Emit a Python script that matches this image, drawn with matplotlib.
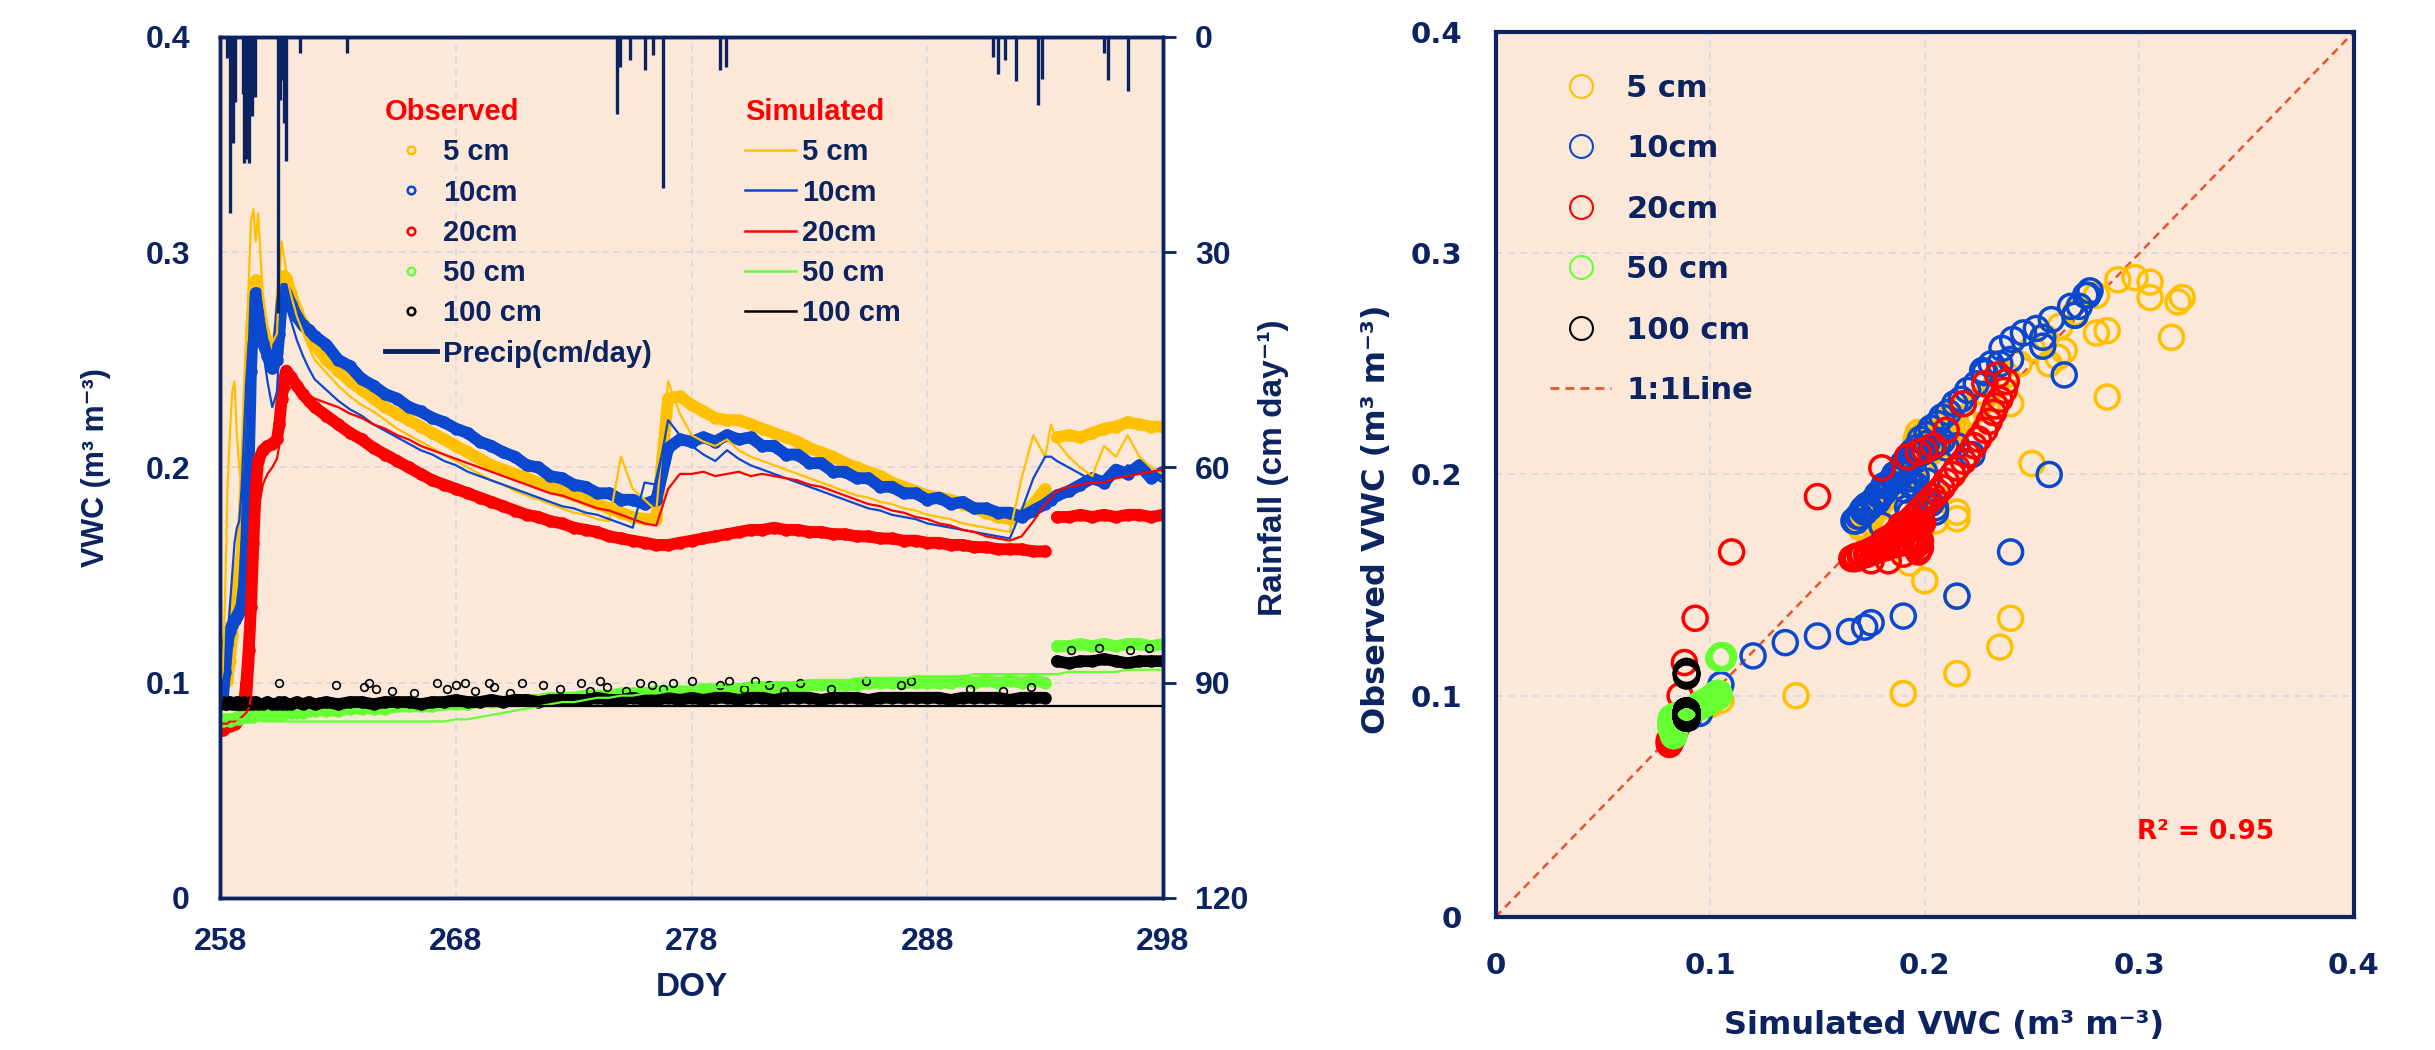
import numpy as np
import matplotlib
matplotlib.use("Agg")
import matplotlib.pyplot as plt
from matplotlib.lines import Line2D

plt.rcParams['font.family'] = ['Liberation Sans', 'DejaVu Sans']
plt.rcParams['font.weight'] = 'bold'

NAVY = '#0B2360'
C5, C10, C20, C50, C100 = '#FFC000', '#0A48CF', '#FF0000', '#66FF33', '#000000'
BG = '#FCE8D9'
GRID = '#D3D6DC'
ONE_LINE = '#E8542C'
nan = np.nan

# ---- time series (DOY) ----
doy = [258.0, 258.1, 258.2, 258.3, 258.4, 258.5, 258.6, 258.7, 258.8, 258.9,
       259.0, 259.1, 259.2, 259.3, 259.4, 259.5, 259.6, 259.8, 260.0, 260.2,
       260.4, 260.5, 260.6, 260.7, 260.8, 261.0, 261.25, 261.5, 261.75, 262.0,
       262.5, 263.0, 263.5, 264.0, 264.5, 265.0, 265.5, 266.0, 266.5, 267.0,
       267.5, 268.0, 268.5, 269.0, 269.5, 270.0, 270.5, 271.0, 271.5, 272.0,
       272.5, 273.0, 273.5, 274.0, 274.5, 275.0, 275.5, 276.0, 276.5, 277.0,
       277.5, 278.0, 278.5, 279.0, 279.5, 280.0, 280.5, 281.0, 281.5, 282.0,
       282.5, 283.0, 283.5, 284.0, 284.5, 285.0, 285.5, 286.0, 286.5, 287.0,
       287.5, 288.0, 288.5, 289.0, 289.5, 290.0, 290.5, 291.0, 291.5, 292.0,
       292.5, 293.0,
       293.25, 293.5, 294.0, 294.5, 295.0, 295.5, 296.0, 296.5, 297.0, 297.5, 298.0]

# observed VWC (m3 m-3)
obs5 = [0.096, 0.098, 0.100, 0.101, 0.110, 0.122, 0.135, 0.145, 0.152, 0.160,
        0.180, 0.205, 0.235, 0.262, 0.280, 0.287, 0.278, 0.264, 0.256, 0.250,
        0.253, 0.265, 0.280, 0.289, 0.288, 0.281, 0.273, 0.267, 0.262, 0.257,
        0.250, 0.245, 0.240, 0.236, 0.232, 0.228, 0.225, 0.222, 0.219, 0.216,
        0.213, 0.210, 0.207, 0.204, 0.201, 0.199, 0.197, 0.195, 0.193, 0.191,
        0.189, 0.187, 0.185, 0.183, 0.181, 0.179, 0.177, 0.176, 0.176, 0.232,
        0.233, 0.229, 0.226, 0.223, 0.222, 0.222, 0.220, 0.218, 0.216, 0.214,
        0.212, 0.209, 0.207, 0.205, 0.202, 0.200, 0.198, 0.196, 0.193, 0.191,
        0.189, 0.187, 0.186, 0.185, 0.183, 0.181, 0.179, 0.177, 0.176, 0.178,
        0.183, 0.190,
        nan, 0.214, 0.215, 0.214, 0.216, 0.218, 0.219, 0.221, 0.220, 0.219, 0.219]
obs10 = [0.090, 0.092, 0.105, 0.118, 0.124, 0.127, 0.129, 0.131, 0.133, 0.136,
         0.145, 0.165, 0.200, 0.245, 0.272, 0.281, 0.272, 0.258, 0.252, 0.246,
         0.250, 0.262, 0.276, 0.283, 0.281, 0.276, 0.270, 0.266, 0.264, 0.261,
         0.257, 0.250, 0.247, 0.241, 0.238, 0.234, 0.232, 0.228, 0.226, 0.223,
         0.221, 0.218, 0.216, 0.212, 0.210, 0.207, 0.205, 0.201, 0.200, 0.196,
         0.195, 0.192, 0.191, 0.188, 0.188, 0.185, 0.185, 0.183, 0.185, 0.209,
         0.213, 0.212, 0.214, 0.212, 0.215, 0.213, 0.214, 0.210, 0.210, 0.206,
         0.206, 0.202, 0.202, 0.198, 0.198, 0.195, 0.195, 0.191, 0.191, 0.188,
         0.188, 0.185, 0.186, 0.183, 0.184, 0.181, 0.181, 0.179, 0.179, 0.177,
         0.180, 0.183,
         0.185, 0.187, 0.189, 0.192, 0.195, 0.193, 0.199, 0.197, 0.201, 0.195, 0.198]
obs20 = [0.079, 0.078, 0.079, 0.080, 0.080, 0.081, 0.081, 0.082, 0.083, 0.085,
         0.090, 0.100, 0.115, 0.135, 0.165, 0.190, 0.203, 0.208, 0.210, 0.211,
         0.213, 0.220, 0.232, 0.241, 0.245, 0.242, 0.238, 0.234, 0.231, 0.228,
         0.224, 0.220, 0.216, 0.213, 0.209, 0.206, 0.203, 0.200, 0.197, 0.194,
         0.192, 0.190, 0.188, 0.186, 0.184, 0.182, 0.180, 0.178, 0.177, 0.175,
         0.174, 0.172, 0.171, 0.170, 0.168, 0.167, 0.166, 0.165, 0.164, 0.164,
         0.165, 0.166, 0.167, 0.168, 0.169, 0.170, 0.171, 0.171, 0.172, 0.171,
         0.171, 0.170, 0.170, 0.169, 0.169, 0.168, 0.168, 0.167, 0.167, 0.166,
         0.166, 0.165, 0.165, 0.164, 0.164, 0.163, 0.163, 0.162, 0.162, 0.162,
         0.161, 0.161,
         nan, 0.177, 0.177, 0.178, 0.177, 0.178, 0.177, 0.178, 0.178, 0.177, 0.178]
obs50 = [0.083, 0.082, 0.083, 0.083, 0.082, 0.083, 0.083, 0.084, 0.083, 0.084,
         0.084, 0.084, 0.084, 0.085, 0.084, 0.085, 0.085, 0.085, 0.085, 0.085,
         0.086, 0.085, 0.086, 0.086, 0.086, 0.086, 0.086, 0.086, 0.087, 0.087,
         0.087, 0.087, 0.088, 0.088, 0.088, 0.088, 0.089, 0.089, 0.089, 0.089,
         0.090, 0.090, 0.090, 0.091, 0.091, 0.091, 0.092, 0.092, 0.092, 0.093,
         0.093, 0.093, 0.094, 0.094, 0.094, 0.095, 0.095, 0.095, 0.096, 0.096,
         0.096, 0.096, 0.097, 0.097, 0.097, 0.097, 0.098, 0.098, 0.098, 0.098,
         0.098, 0.099, 0.099, 0.099, 0.099, 0.099, 0.100, 0.100, 0.100, 0.100,
         0.100, 0.100, 0.100, 0.100, 0.101, 0.100, 0.101, 0.100, 0.101, 0.100,
         0.101, 0.100,
         nan, 0.117, 0.117, 0.118, 0.117, 0.118, 0.117, 0.118, 0.118, 0.117, 0.118]
obs100 = [0.090, 0.091, 0.090, 0.090, 0.091, 0.090, 0.090, 0.091, 0.090, 0.090,
          0.091, 0.090, 0.090, 0.091, 0.090, 0.091, 0.090, 0.090, 0.091, 0.090,
          0.090, 0.091, 0.090, 0.091, 0.090, 0.090, 0.091, 0.090, 0.091, 0.090,
          0.091, 0.090, 0.091, 0.091, 0.090, 0.091, 0.091, 0.091, 0.090, 0.091,
          0.091, 0.092, 0.091, 0.091, 0.092, 0.091, 0.092, 0.092, 0.091, 0.092,
          0.092, 0.092, 0.092, 0.093, 0.092, 0.092, 0.093, 0.092, 0.092, 0.093,
          0.092, 0.093, 0.092, 0.093, 0.093, 0.092, 0.093, 0.093, 0.092, 0.093,
          0.093, 0.093, 0.092, 0.093, 0.093, 0.093, 0.092, 0.093, 0.093, 0.093,
          0.093, 0.093, 0.093, 0.092, 0.093, 0.093, 0.093, 0.093, 0.092, 0.093,
          0.093, 0.093,
          nan, 0.110, 0.109, 0.110, 0.110, 0.111, 0.110, 0.109, 0.110, 0.110, 0.110]

# scattered high readings of the 100 cm sensor
obs100_out_doy = [260.5, 262.9, 264.1, 264.3, 264.6, 265.3, 266.2, 267.2, 267.6, 268.0,
                  268.4, 268.8, 269.4, 269.6, 270.3, 270.8, 271.7, 272.4, 273.3, 273.7,
                  274.1, 274.4, 275.2, 275.8, 276.3, 276.8, 277.2, 278.0, 279.2, 279.6,
                  280.2, 280.7, 281.3, 281.9, 282.6, 283.9, 285.4, 286.9, 287.3, 289.8,
                  291.2, 292.4, 294.1, 295.3, 296.6, 297.4]
obs100_out_vwc = [0.100, 0.099, 0.098, 0.100, 0.097, 0.096, 0.095, 0.100, 0.097, 0.099,
                  0.100, 0.096, 0.100, 0.098, 0.095, 0.100, 0.099, 0.097, 0.100, 0.096,
                  0.101, 0.098, 0.096, 0.100, 0.099, 0.097, 0.100, 0.101, 0.099, 0.101,
                  0.097, 0.101, 0.099, 0.096, 0.100, 0.097, 0.101, 0.099, 0.101, 0.097,
                  0.096, 0.098, 0.115, 0.116, 0.115, 0.116]

# simulated VWC (m3 m-3)
sim5 = [0.100, 0.105, 0.140, 0.190, 0.215, 0.235, 0.240, 0.215, 0.200, 0.193,
        0.215, 0.250, 0.285, 0.315, 0.320, 0.305, 0.318, 0.280, 0.265, 0.258,
        0.262, 0.285, 0.305, 0.298, 0.290, 0.280, 0.270, 0.263, 0.256, 0.250,
        0.244, 0.238, 0.233, 0.229, 0.226, 0.222, 0.218, 0.215, 0.212, 0.209,
        0.206, 0.203, 0.200, 0.197, 0.194, 0.192, 0.189, 0.187, 0.185, 0.183,
        0.181, 0.179, 0.178, 0.176, 0.175, 0.205, 0.190, 0.185, 0.180, 0.240,
        0.225, 0.215, 0.212, 0.210, 0.213, 0.208, 0.205, 0.203, 0.201, 0.199,
        0.197, 0.195, 0.193, 0.191, 0.189, 0.187, 0.186, 0.184, 0.183, 0.181,
        0.180, 0.178, 0.177, 0.176, 0.174, 0.173, 0.172, 0.171, 0.170, 0.195,
        0.215, 0.205,
        0.220, 0.212, 0.205, 0.200, 0.196, 0.210, 0.205, 0.215, 0.205, 0.200, 0.197]
sim10 = [0.090, 0.095, 0.105, 0.120, 0.135, 0.150, 0.165, 0.172, 0.175, 0.190,
         0.215, 0.240, 0.258, 0.265, 0.270, 0.276, 0.270, 0.255, 0.240, 0.228,
         0.235, 0.255, 0.272, 0.277, 0.275, 0.268, 0.259, 0.252, 0.246, 0.241,
         0.236, 0.231, 0.227, 0.224, 0.220, 0.217, 0.214, 0.211, 0.208, 0.206,
         0.203, 0.201, 0.198, 0.196, 0.194, 0.192, 0.190, 0.188, 0.186, 0.184,
         0.182, 0.181, 0.179, 0.178, 0.176, 0.174, 0.172, 0.193, 0.192, 0.222,
         0.215, 0.210, 0.206, 0.203, 0.208, 0.204, 0.201, 0.199, 0.197, 0.195,
         0.193, 0.191, 0.189, 0.187, 0.185, 0.183, 0.181, 0.180, 0.178, 0.177,
         0.176, 0.174, 0.173, 0.172, 0.171, 0.170, 0.169, 0.168, 0.167, 0.180,
         0.195, 0.205,
         0.205, 0.203, 0.200, 0.197, 0.194, 0.191, 0.196, 0.201, 0.200, 0.196, 0.193]
sim20 = [0.081, 0.081, 0.081, 0.081, 0.082, 0.082, 0.082, 0.083, 0.083, 0.084,
         0.085, 0.086, 0.088, 0.093, 0.110, 0.150, 0.180, 0.192, 0.197, 0.200,
         0.204, 0.210, 0.218, 0.228, 0.234, 0.238, 0.237, 0.235, 0.233, 0.232,
         0.230, 0.228, 0.225, 0.223, 0.220, 0.218, 0.215, 0.213, 0.210, 0.208,
         0.206, 0.204, 0.202, 0.200, 0.198, 0.196, 0.194, 0.192, 0.190, 0.188,
         0.187, 0.185, 0.183, 0.181, 0.180, 0.178, 0.176, 0.174, 0.173, 0.190,
         0.197, 0.197, 0.198, 0.196, 0.197, 0.198, 0.196, 0.197, 0.196, 0.195,
         0.194, 0.192, 0.191, 0.189, 0.187, 0.185, 0.183, 0.182, 0.180, 0.179,
         0.177, 0.176, 0.174, 0.173, 0.171, 0.170, 0.168, 0.167, 0.166, 0.168,
         0.175, 0.183,
         0.186, 0.189, 0.191, 0.192, 0.193, 0.193, 0.195, 0.196, 0.197, 0.198, 0.199]
sim50 = [0.083, 0.083, 0.083, 0.083, 0.083, 0.083, 0.083, 0.083, 0.083, 0.083,
         0.083, 0.083, 0.083, 0.083, 0.083, 0.083, 0.083, 0.082, 0.082, 0.082,
         0.082, 0.082, 0.082, 0.082, 0.082, 0.082, 0.082, 0.082, 0.082, 0.082,
         0.082, 0.082, 0.082, 0.082, 0.082, 0.082, 0.082, 0.082, 0.082, 0.082,
         0.082, 0.083, 0.083, 0.084, 0.085, 0.086, 0.087, 0.088, 0.089, 0.090,
         0.091, 0.091, 0.092, 0.093, 0.093, 0.094, 0.094, 0.095, 0.095, 0.096,
         0.096, 0.097, 0.097, 0.098, 0.098, 0.099, 0.099, 0.099, 0.100, 0.100,
         0.100, 0.101, 0.101, 0.101, 0.101, 0.102, 0.102, 0.102, 0.102, 0.102,
         0.103, 0.103, 0.103, 0.103, 0.103, 0.104, 0.104, 0.104, 0.104, 0.104,
         0.104, 0.104,
         0.104, 0.104, 0.105, 0.105, 0.105, 0.105, 0.105, 0.106, 0.106, 0.106, 0.106]
sim100 = [0.089, 0.089, 0.089, 0.089, 0.089, 0.089, 0.089, 0.089, 0.089, 0.089,
          0.089, 0.089, 0.089, 0.089, 0.089, 0.089, 0.089, 0.089, 0.089, 0.089,
          0.089, 0.089, 0.089, 0.089, 0.089, 0.089, 0.089, 0.089, 0.089, 0.089,
          0.089, 0.089, 0.089, 0.089, 0.089, 0.089, 0.089, 0.089, 0.089, 0.089,
          0.089, 0.089, 0.089, 0.089, 0.089, 0.089, 0.089, 0.089, 0.089, 0.089,
          0.089, 0.089, 0.089, 0.089, 0.089, 0.089, 0.089, 0.089, 0.089, 0.089,
          0.089, 0.089, 0.089, 0.089, 0.089, 0.089, 0.089, 0.089, 0.089, 0.089,
          0.089, 0.089, 0.089, 0.089, 0.089, 0.089, 0.089, 0.089, 0.089, 0.089,
          0.089, 0.089, 0.089, 0.089, 0.089, 0.089, 0.089, 0.089, 0.089, 0.089,
          0.089, 0.089,
          0.089, 0.089, 0.089, 0.089, 0.089, 0.089, 0.089, 0.089, 0.089, 0.089, 0.089]

# precipitation (cm/day)
rain_doy = [258.30, 258.40, 258.45, 258.55, 258.60, 258.95, 259.00, 259.05, 259.10, 259.15,
            259.20, 259.25, 259.30, 259.35, 259.40, 259.48, 260.45, 260.55, 260.62, 260.70,
            260.78, 261.38, 263.37, 274.85, 274.95, 275.38, 276.00, 276.38, 276.80, 279.20,
            279.45, 290.78, 290.98, 291.30, 291.78, 292.68, 292.88, 295.48, 295.67, 296.52]
rain_cm = [3.0, 24.5, 6.0, 14.8, 9.0, 8.0, 17.5, 12.0, 17.0, 14.0,
           17.5, 9.0, 8.3, 11.0, 7.0, 8.3, 38.5, 8.8, 6.0, 12.0,
           17.3, 2.3, 2.3, 10.8, 4.2, 3.2, 4.6, 2.5, 21.0, 4.6,
           4.2, 2.8, 5.1, 3.2, 6.2, 9.5, 5.8, 2.3, 6.0, 7.6]

depth_labels = ['5 cm', '10cm', '20cm', '50 cm', '100 cm']
depth_colors = [C5, C10, C20, C50, C100]
obs_all = [obs5, obs10, obs20, obs50, obs100]
sim_all = [sim5, sim10, sim20, sim50, sim100]
one_to_one = [0.0, 0.4]

fig = plt.figure(figsize=(24.35, 10.5), dpi=100)

# ================= left: time series =================
ax = fig.add_axes([0.0905, 0.1448, 0.3871, 0.8200])
ax.set_facecolor(BG)
ax.set_axisbelow(True)

for vals, c in zip(obs_all, depth_colors):
    ax.plot(doy, vals, '-', color=c, lw=8.5, solid_capstyle='round', zorder=2)
    ax.plot(doy, vals, 'o', mfc='none', mec=c, ms=7, mew=2, zorder=2)
ax.plot(obs100_out_doy, obs100_out_vwc, 'o', ls='none', mfc='none', mec=C100,
        ms=5.5, mew=1.2, zorder=3)
for vals, c in zip(sim_all, depth_colors):
    ax.plot(doy, vals, '-', color=c, lw=1.6, zorder=4)

ax.set_xlim(258, 298)
ax.set_ylim(0, 0.4)
ax.set_xticks([258, 268, 278, 288, 298])
ax.set_yticks([0, 0.1, 0.2, 0.3, 0.4])
ax.set_yticklabels(['0', '0.1', '0.2', '0.3', '0.4'])
ax.tick_params(length=0, labelsize=23, colors=NAVY)
ax.tick_params(axis='y', pad=22)
ax.tick_params(axis='x', pad=21)
ax.grid(True, color=GRID, ls=(0, (4.5, 3.3)), lw=1.1)
for s in ax.spines.values():
    s.set_color(NAVY)
    s.set_linewidth(2.5)
ax.set_ylabel('VWC (m³ m⁻³)', fontsize=22, color=NAVY, fontweight='bold', va='center')
ax.yaxis.set_label_coords(-0.132, 0.5)
ax.set_xlabel('DOY', fontsize=24, color=NAVY, fontweight='bold', va='center')
ax.xaxis.set_label_coords(0.5, -0.1045)

ax2 = ax.twinx()
ax2.vlines(rain_doy, 0, rain_cm, color=NAVY, lw=2.4)
ax2.set_ylim(120, 0)
ax2.set_yticks([0, 30, 60, 90, 120])
ax2.tick_params(axis='y', length=9, width=2, colors=NAVY, labelsize=23, pad=14, direction='out')
for s in ax2.spines.values():
    s.set_color(NAVY)
    s.set_linewidth(2.5)
ax2.set_ylabel('Rainfall (cm day⁻¹)', fontsize=24, color=NAVY, fontweight='bold', va='center')
ax2.yaxis.set_label_coords(1.117, 0.5)

obs_handles = [Line2D([], [], ls='none', marker='o', mfc='none', mec=c, ms=5.5, mew=1.8)
               for c in depth_colors]
obs_handles.append(Line2D([], [], color=NAVY, lw=3.5))
leg1 = ax.legend(obs_handles, depth_labels + ['Precip(cm/day)'], title='Observed',
                 loc='upper left', bbox_to_anchor=(0.1746, 0.929), frameon=False,
                 fontsize=21, handlelength=1.8, handletextpad=0.2, labelspacing=0.42,
                 borderpad=0, borderaxespad=0, alignment='left',
                 title_fontproperties={'weight': 'bold', 'size': 21})
for t in leg1.get_texts():
    t.set_color(NAVY)
leg1.get_title().set_color('#FF0000')
ax.add_artist(leg1)

sim_handles = [Line2D([], [], color=c, lw=1.8) for c in depth_colors]
leg2 = ax.legend(sim_handles, depth_labels, title='Simulated',
                 loc='upper left', bbox_to_anchor=(0.5565, 0.929), frameon=False,
                 fontsize=21, handlelength=1.75, handletextpad=0.2, labelspacing=0.42,
                 borderpad=0, borderaxespad=0, alignment='left',
                 title_fontproperties={'weight': 'bold', 'size': 21})
for t in leg2.get_texts():
    t.set_color(NAVY)
leg2.get_title().set_color('#FF0000')

# ================= right: observed vs simulated =================
axr = fig.add_axes([0.6142, 0.1267, 0.3525, 0.8428])
axr.set_facecolor(BG)
axr.set_axisbelow(True)
axr.plot(one_to_one, one_to_one, color=ONE_LINE, ls=(0, (3.2, 2.2)), lw=1.8, zorder=1.5)
for sim, obs, c in zip(sim_all, obs_all, depth_colors):
    axr.scatter(sim, obs, s=300, facecolors='none', edgecolors=c, linewidths=2.5, zorder=3)

axr.set_xlim(0, 0.4)
axr.set_ylim(0, 0.4)
ticks = [0, 0.1, 0.2, 0.3, 0.4]
tick_labels = ['0', '0.1', '0.2', '0.3', '0.4']
axr.set_xticks(ticks)
axr.set_xticklabels(tick_labels)
axr.set_yticks(ticks)
axr.set_yticklabels(tick_labels)
axr.tick_params(length=0, labelsize=21, colors=NAVY, labelfontfamily='DejaVu Sans')
axr.tick_params(axis='y', pad=24)
axr.tick_params(axis='x', pad=25)
axr.grid(True, color=GRID, ls=(0, (4.5, 3.3)), lw=1.1)
for s in axr.spines.values():
    s.set_color(NAVY)
    s.set_linewidth(3)
axr.set_xlabel('Simulated VWC (m³ m⁻³)', fontsize=23, color=NAVY, fontweight='bold',
               family='DejaVu Sans', va='center')
axr.xaxis.set_label_coords(0.522, -0.123)
axr.set_ylabel('Observed VWC (m³ m⁻³)', fontsize=23, color=NAVY, fontweight='bold',
               family='DejaVu Sans', va='center')
axr.yaxis.set_label_coords(-0.139, 0.449)
axr.text(0.747, 0.096, 'R² = 0.95', transform=axr.transAxes, color='#FF0000',
         fontsize=19, family='DejaVu Sans', fontweight='bold', va='center', ha='left')

sc_handles = [Line2D([], [], ls='none', marker='o', mfc='none', mec=c, ms=16.5, mew=1.5)
              for c in depth_colors]
sc_handles.append(Line2D([], [], color=ONE_LINE, ls=(0, (3.2, 2.2)), lw=2))
leg3 = axr.legend(sc_handles, depth_labels + ['1:1Line'], loc='upper left',
                  bbox_to_anchor=(0.0634, 0.953), frameon=False,
                  prop={'family': 'DejaVu Sans', 'weight': 'bold', 'size': 22},
                  handlelength=2.0, handletextpad=0.5, labelspacing=1.03,
                  borderpad=0, borderaxespad=0)
for t in leg3.get_texts():
    t.set_color(NAVY)

fig.savefig('out.png', dpi=100)
